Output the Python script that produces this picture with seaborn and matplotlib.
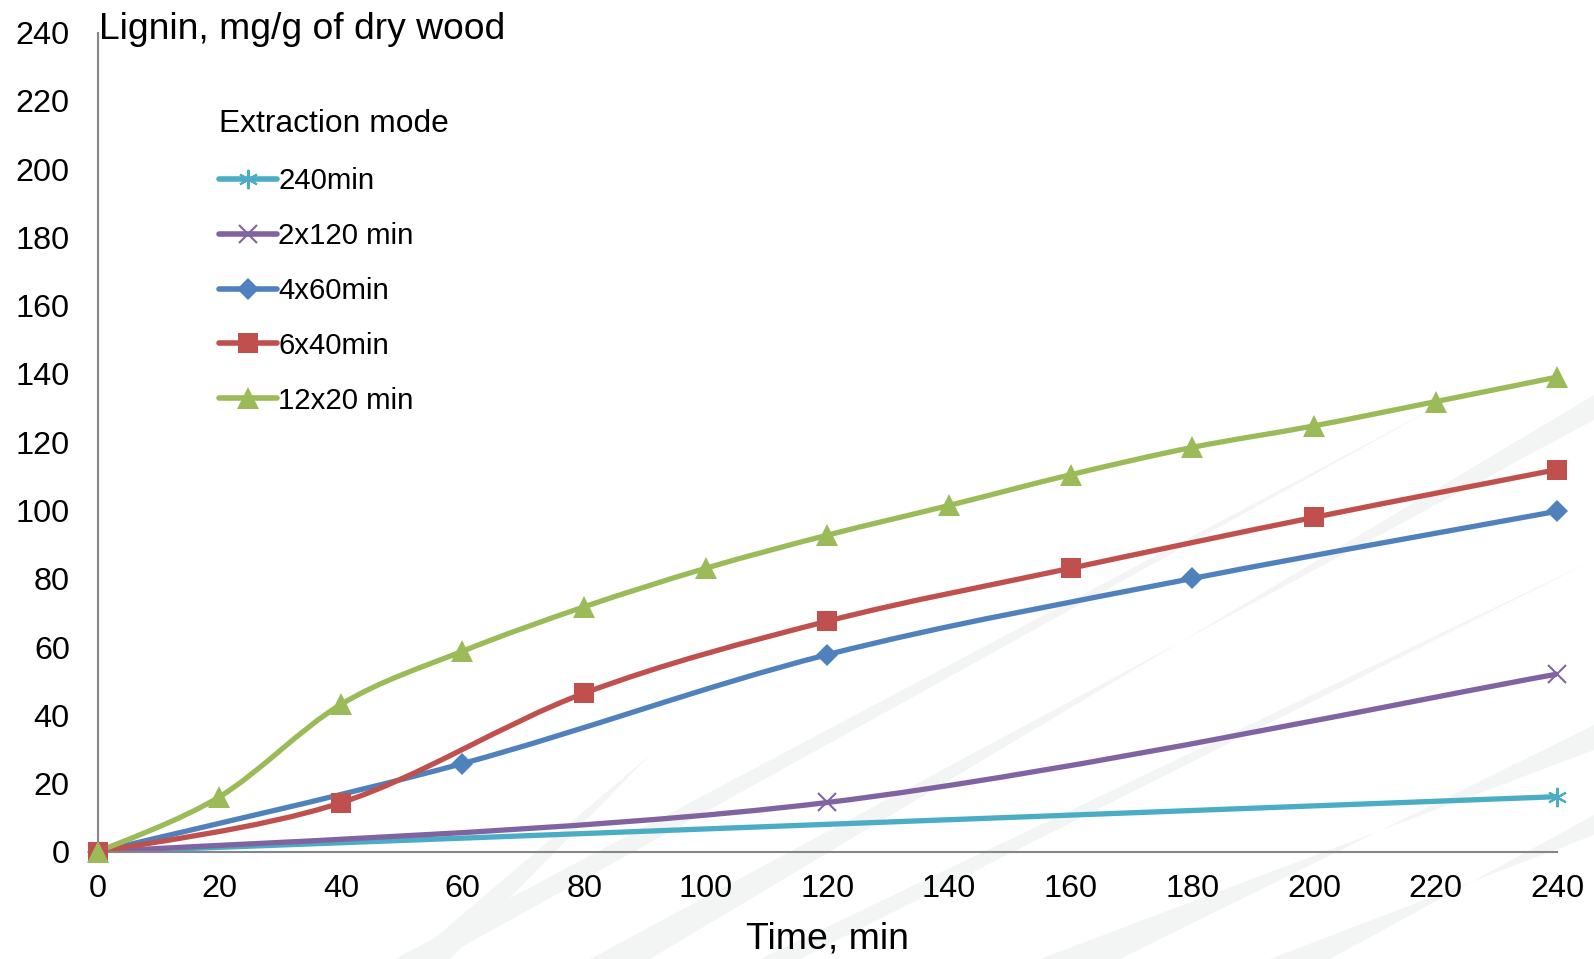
import numpy as np
import matplotlib
matplotlib.use("Agg")
import matplotlib.pyplot as plt
from matplotlib.path import Path
from matplotlib.patches import PathPatch, Polygon
from matplotlib.lines import Line2D
import seaborn as sns

# data (time in min, lignin in mg/g of dry wood)
t_240 = [0, 240]
y_240 = [0, 16.2]

t_2x120 = [0, 120, 240]
y_2x120 = [0, 14.5, 52.1]

t_4x60 = [0, 60, 120, 180, 240]
y_4x60 = [0, 25.9, 57.8, 80.1, 99.8]

t_6x40 = [0, 40, 80, 120, 160, 200, 240]
y_6x40 = [0, 14.4, 46.5, 67.6, 83.1, 98.0, 112.0]

t_12x20 = [0, 20, 40, 60, 80, 100, 120, 140, 160, 180, 200, 220, 240]
y_12x20 = [0, 16.1, 43.2, 58.8, 71.8, 83.1, 92.8, 101.5, 110.5, 118.5, 124.8, 131.9, 139.1]

labels = ["240min", "2x120 min", "4x60min", "6x40min", "12x20 min"]
colors = ["#4bacc6", "#8064a2", "#4f81bd", "#c0504d", "#9bbb59"]
markers = [(6, 2, 0), "x", "D", "s", "^"]
msizes = [14, 13, 11.5, 15, 15.5]

series = [(t_240, y_240), (t_2x120, y_2x120), (t_4x60, y_4x60),
          (t_6x40, y_6x40), (t_12x20, y_12x20)]


def smooth_path(xs, ys):
    # Excel-style smoothed line: cubic bezier segments through the points
    pts = np.column_stack([xs, ys]).astype(float)
    n = len(pts)
    verts = [pts[0]]
    codes = [Path.MOVETO]
    for i in range(n - 1):
        p0 = pts[i - 1] if i > 0 else pts[i]
        p1 = pts[i]
        p2 = pts[i + 1]
        p3 = pts[i + 2] if i + 2 < n else pts[i + 1]
        c1 = p1 + (p2 - p0) / 6.0
        c2 = p2 - (p3 - p1) / 6.0
        verts += [c1, c2, p2]
        codes += [Path.CURVE4] * 3
    return Path(verts, codes)


sns.set_theme(style="white")
plt.rcParams["font.family"] = ["Liberation Sans", "DejaVu Sans"]
plt.rcParams["text.color"] = "black"

W, H = 1594, 959
fig = plt.figure(figsize=(W / 100, H / 100), dpi=100)

# faint decorative swooshes in the background (pixel coords, y down)
bg = fig.add_axes([0, 0, 1, 1], zorder=-10)
bg.set_xlim(0, W)
bg.set_ylim(H, 0)
bg.axis("off")
swoosh = "#f3f5f4"
for pts in [
    [(395, 959), (440, 959), (1440, 405)],
    [(590, 959), (650, 959), (1594, 395), (1594, 420)],
    [(410, 959), (450, 959), (650, 755)],
    [(1040, 959), (1120, 959), (1594, 725), (1594, 750)],
    [(1270, 959), (1330, 959), (1594, 815), (1594, 835)],
    [(760, 959), (800, 959), (1594, 560)],
]:
    bg.add_patch(Polygon(pts, closed=True, facecolor=swoosh, edgecolor="none"))

ax = fig.add_axes([0.0612, 0.1116, 0.9158, 0.8545])
ax.set_facecolor("none")

handles = []
for (xs, ys), lab, col, mk, ms in zip(series, labels, colors, markers, msizes):
    ax.add_patch(PathPatch(smooth_path(xs, ys), facecolor="none", edgecolor=col,
                           lw=3.8, capstyle="round", joinstyle="round", zorder=2))
    mew = 1.5 if mk in ["x", (6, 2, 0)] else 0
    sns.lineplot(x=xs, y=ys, ax=ax, marker=mk, markersize=ms, color=col,
                 linestyle="none", markeredgecolor=col, markeredgewidth=mew,
                 clip_on=False, zorder=3)
    handles.append(Line2D([], [], color=col, lw=4, marker=mk, markersize=ms,
                          markeredgecolor=col, markeredgewidth=mew,
                          solid_capstyle="round"))

ax.set_xlim(0, 240)
ax.set_ylim(0, 240)
ax.set_xticks(np.arange(0, 241, 20))
ax.set_yticks(np.arange(0, 241, 20))
sns.despine(ax=ax)
for s in ["left", "bottom"]:
    ax.spines[s].set_color("#868686")
    ax.spines[s].set_linewidth(1.5)
ax.tick_params(axis="both", which="major", direction="out", length=6, width=1.5,
               color="#868686", labelsize=23.3, labelcolor="black")
ax.tick_params(axis="x", pad=10)
ax.tick_params(axis="y", pad=14)

ax.text(0.3, 238.2, "Lignin, mg/g of dry wood", fontsize=26.8, ha="left",
        va="baseline", clip_on=False)
fig.text(0.519, 0.011, "Time, min", fontsize=26.9, ha="center", va="baseline")

leg = ax.legend(handles, labels, title="Extraction mode", loc="upper left",
                bbox_to_anchor=(0.128, 0.9015), bbox_transform=fig.transFigure,
                frameon=False, fontsize=21.2, title_fontsize=22.9,
                handlelength=1.97, handletextpad=0.05, labelspacing=0.91,
                borderpad=0, alignment="left")
leg._legend_box.sep = 20.3

fig.savefig("out.png", dpi=100)
